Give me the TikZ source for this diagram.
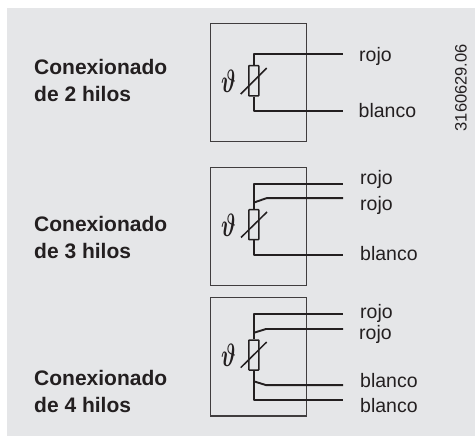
\documentclass[tikz,border=0pt]{standalone}
\usepackage{fontspec}
\setmainfont{Liberation Sans}
\definecolor{bgc}{HTML}{E5E6E8}
\definecolor{ink}{HTML}{231F20}
\tikzset{
  frame/.style={draw=ink!85!bgc,line width=1.05pt,fill=none},
  wire/.style={draw=ink,line width=1.9pt,line join=round},
  res/.style={draw=ink,line width=1.5pt,rounded corners=0.6pt},
  slash/.style={draw=ink,line width=1.5pt},
  lab/.style={anchor=base west,inner sep=0pt,text=ink,font=\fontsize{19.5}{22}\selectfont},
  ttl/.style={anchor=base west,inner sep=0pt,text=ink,font=\fontsize{21}{24}\selectfont\bfseries},
  thet/.style={inner sep=0pt,text=ink,xscale=0.85,yscale=1.3,font=\fontsize{37}{40}\selectfont\boldmath},
}
\begin{document}
\begin{tikzpicture}[x=1pt,y=-1pt]
\useasboundingbox (0,0) rectangle (475,436);
\fill[bgc] (7,8) rectangle (475,436);
% titles
\node[ttl] (t1a) at (34,74.3) {Conexionado};
\node[ttl] (t1b) at (34,101.7) {de 2 hilos};
\node[ttl] (t2a) at (34,231.7) {Conexionado};
\node[ttl] (t2b) at (34,258.7) {de 3 hilos};
\node[ttl] (t3a) at (34,385.3) {Conexionado};
\node[ttl] (t3b) at (34,412) {de 4 hilos};
\node[anchor=base west,inner sep=0pt,text=ink,rotate=90,font=\fontsize{16.5}{18}\selectfont] (code) at (466.7,131.5) {3160629.06};
% --- 2 wires
\node[inner sep=0,minimum width=96.5pt,minimum height=118.4pt,frame] (b1) at (258.5,82.5) {};
\node[res,inner sep=0,minimum width=10pt,minimum height=30.3pt] (r1) at (253.8,80.8) {};
\coordinate (e1a) at (343,54.1);
\coordinate (e1b) at (343,111);
\draw[wire] (r1.north) |- (e1a);
\draw[wire] (r1.south) |- (e1b);
\coordinate (s1a) at (240.7,94);
\coordinate (s1b) at (266.7,68);
\draw[slash] (s1a) -- (s1b);
\node[thet] (th1) at (228.5,81) {$\vartheta$};
\node[lab] (l1a) at (359,61.7) {rojo};
\node[lab] (l1b) at (358.5,117.7) {blanco};
% --- 3 wires
\node[inner sep=0,minimum width=96.3pt,minimum height=118.4pt,frame] (b2) at (258.6,226.5) {};
\node[res,inner sep=0,minimum width=10pt,minimum height=30pt] (r2) at (253.8,224.7) {};
\coordinate (e2a) at (343,183.9);
\coordinate (e2b) at (343,198.1);
\coordinate (e2c) at (343,255);
\coordinate (k2) at (266.7,198.1);
\coordinate (j2) at (253.8,202.6);
\draw[wire] (r2.north) |- (e2a);
\draw[wire] (j2) -- (k2) -- (e2b);
\draw[wire] (r2.south) |- (e2c);
\coordinate (s2a) at (241,237.5);
\coordinate (s2b) at (267,212);
\draw[slash] (s2a) -- (s2b);
\node[thet] (th2) at (228.5,225.7) {$\vartheta$};
\node[lab] (l2a) at (360,185) {rojo};
\node[lab] (l2b) at (360,211) {rojo};
\node[lab] (l2c) at (360,260.7) {blanco};
% --- 4 wires
\node[inner sep=0,minimum width=96.5pt,minimum height=118.4pt,frame] (b3) at (258.3,356.8) {};
\node[res,inner sep=0,minimum width=10pt,minimum height=30pt] (r3) at (253.8,355) {};
\coordinate (e3a) at (343,314);
\coordinate (e3b) at (343,329);
\coordinate (e3c) at (343,385.1);
\coordinate (e3d) at (343,399.7);
\coordinate (k3a) at (266,329);
\coordinate (j3a) at (253.8,332.8);
\coordinate (k3b) at (266,385.1);
\coordinate (j3b) at (253.8,381.3);
\draw[wire] (r3.north) |- (e3a);
\draw[wire] (j3a) -- (k3a) -- (e3b);
\draw[wire] (j3b) -- (k3b) -- (e3c);
\draw[wire] (r3.south) |- (e3d);
\coordinate (s3a) at (240.7,367.7);
\coordinate (s3b) at (266.7,342);
\draw[slash] (s3a) -- (s3b);
\node[thet] (th3) at (228.5,355.7) {$\vartheta$};
\node[lab] (l3a) at (360,318.3) {rojo};
\node[lab] (l3b) at (359,340) {rojo};
\node[lab] (l3c) at (360,387.7) {blanco};
\node[lab] (l3d) at (360,412.3) {blanco};
\end{tikzpicture}
\end{document}
